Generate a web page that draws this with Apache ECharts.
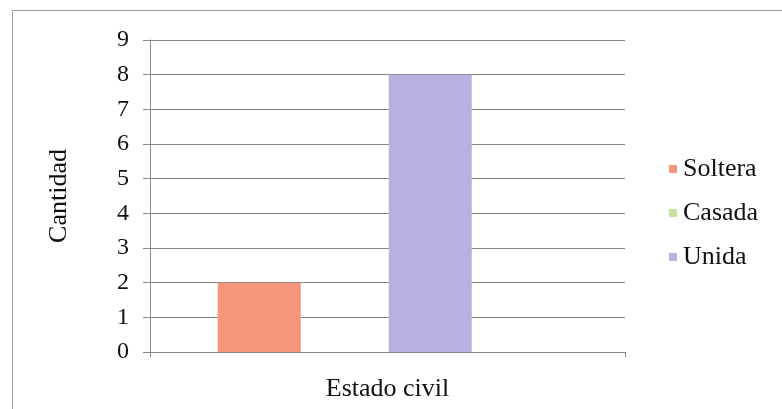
<!DOCTYPE html>
<html>
<head>
<meta charset="utf-8">
<script src="https://cdn.jsdelivr.net/npm/echarts@6/dist/echarts.min.js"></script>
<style>html,body{margin:0;padding:0;background:#fff}#c{width:782px;height:409px}</style>
</head>
<body>
<div id="c"></div>
<script>
const categories = ['Estado civil'];
const seriesNames = ['Soltera', 'Casada', 'Unida'];
const solteraValues = [2];
const casadaValues = [0];
const unidaValues = [8];
const blankValues = [0];
const yTicks = [0, 1, 2, 3, 4, 5, 6, 7, 8, 9];

const colors = ['#f4967c', '#c6e59c', '#b9b0e2'];
const font = "'Liberation Serif', 'Times New Roman', serif";

const chart = echarts.init(document.getElementById('c'), null, {renderer: 'canvas'});
const barStyle = {barWidth: 83, barGap: '3%'};
chart.setOption({
  animation: false,
  graphic: [{
    type: 'rect', shape: {x: 12.5, y: 10.5, width: 790, height: 420},
    style: {fill: 'none', stroke: '#9a9a9a', lineWidth: 1}, z: -1
  }],
  grid: {left: 150, right: 157, top: 40, bottom: 57},
  legend: {
    data: seriesNames,
    orient: 'vertical', left: 664, top: 151,
    itemWidth: 8, itemHeight: 8, itemGap: 18, icon: 'rect',
    textStyle: {fontFamily: font, fontSize: 26, color: '#111', padding: [0, 0, 0, 1]}
  },
  xAxis: {
    type: 'category', data: categories,
    name: categories[0], nameLocation: 'middle', nameGap: 24,
    nameTextStyle: {fontFamily: font, fontSize: 26, color: '#111'},
    axisLine: {lineStyle: {color: '#8a8a8a', width: 1}},
    axisTick: {show: true, length: 5, lineStyle: {color: '#8a8a8a'}},
    axisLabel: {show: false}
  },
  yAxis: {
    type: 'value', min: yTicks[0], max: yTicks[yTicks.length - 1], interval: 1,
    name: 'Cantidad', nameLocation: 'middle', nameGap: 78, nameRotate: 90,
    nameTextStyle: {fontFamily: font, fontSize: 26, color: '#111'},
    axisLine: {show: true, lineStyle: {color: '#8a8a8a', width: 1}},
    axisTick: {show: true, length: 7, lineStyle: {color: '#8a8a8a'}},
    axisLabel: {fontFamily: font, fontSize: 24, color: '#111', margin: 21},
    splitLine: {lineStyle: {color: '#858585', width: 1}}
  },
  series: [
    Object.assign({type: 'bar', name: seriesNames[0], data: solteraValues, itemStyle: {color: colors[0]}}, barStyle),
    Object.assign({type: 'bar', name: seriesNames[1], data: casadaValues, itemStyle: {color: colors[1]}}, barStyle),
    Object.assign({type: 'bar', name: seriesNames[2], data: unidaValues, itemStyle: {color: colors[2]}}, barStyle),
    Object.assign({type: 'bar', name: '', data: blankValues, itemStyle: {color: 'rgba(0,0,0,0)'}}, barStyle)
  ]
});
</script>
</body>
</html>
